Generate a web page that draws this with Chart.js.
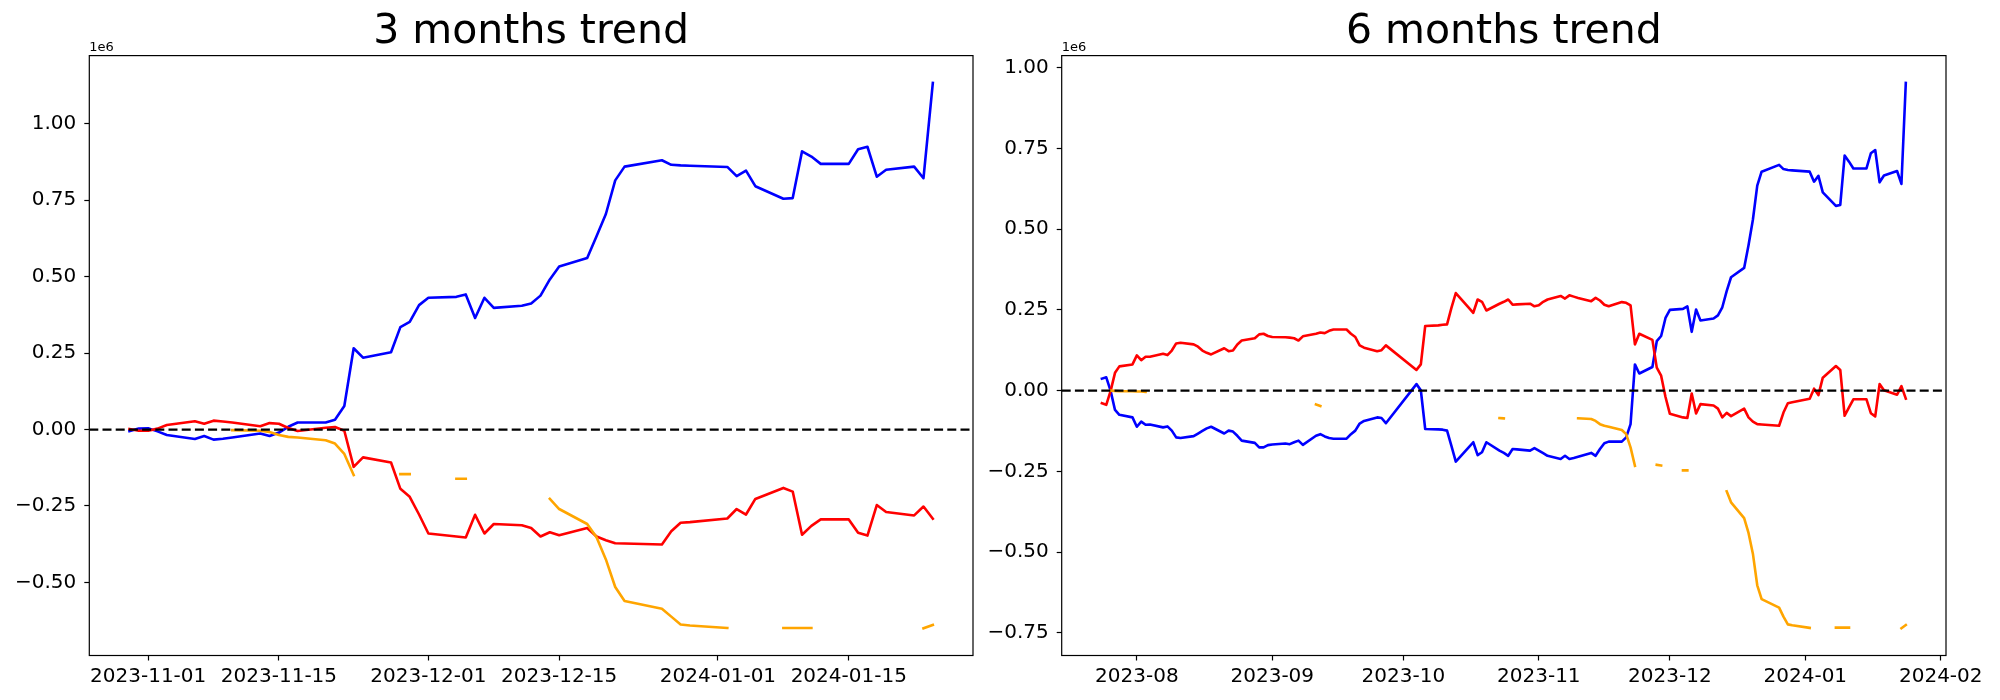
<!DOCTYPE html>
<html>
<head>
<meta charset="utf-8">
<title>Trend</title>
<script src="https://cdn.jsdelivr.net/npm/chart.js@4.4.1/dist/chart.umd.min.js"></script>
<style>
  body { margin: 0; background: #fff; }
  #wrap { position: relative; width: 2000px; height: 700px; }
  canvas { display: block; position: absolute; top: 0; }
  #chart3m { left: 0; }
  #chart6m { left: 960px; }
</style>
</head>
<body>
<div id="wrap">
  <canvas id="chart3m" width="1000" height="700"></canvas>
  <canvas id="chart6m" width="1040" height="700"></canvas>
</div>
<script>
// ---- 3 months data (values in millions) ----
const dates3m = [
  '2023-10-30','2023-10-31','2023-11-01','2023-11-02','2023-11-03',
  '2023-11-06','2023-11-07','2023-11-08','2023-11-09','2023-11-10',
  '2023-11-13','2023-11-14','2023-11-15','2023-11-16','2023-11-17',
  '2023-11-20','2023-11-21','2023-11-22','2023-11-23','2023-11-24',
  '2023-11-27','2023-11-28','2023-11-29','2023-11-30','2023-12-01',
  '2023-12-04','2023-12-05','2023-12-06','2023-12-07','2023-12-08',
  '2023-12-11','2023-12-12','2023-12-13','2023-12-14','2023-12-15',
  '2023-12-18','2023-12-19','2023-12-20','2023-12-21','2023-12-22',
  '2023-12-26','2023-12-27','2023-12-28','2023-12-29',
  '2024-01-02','2024-01-03','2024-01-04','2024-01-05',
  '2024-01-08','2024-01-09','2024-01-10','2024-01-11','2024-01-12',
  '2024-01-15','2024-01-16','2024-01-17','2024-01-18','2024-01-19',
  '2024-01-22','2024-01-23','2024-01-24'
];
const blue3m = [
  -0.005, 0.003, 0.004, -0.006, -0.018,
  -0.031, -0.021, -0.033, -0.030, -0.026,
  -0.013, -0.021, -0.010, 0.009, 0.023,
  0.023, 0.032, 0.077, 0.266, 0.235,
  0.253, 0.335, 0.352, 0.407, 0.431,
  0.434, 0.442, 0.365, 0.431, 0.398,
  0.405, 0.412, 0.438, 0.491, 0.533,
  0.561, 0.632, 0.705, 0.815, 0.860,
  0.881, 0.866, 0.864, 0.863,
  0.859, 0.829, 0.847, 0.796,
  0.755, 0.757, 0.910, 0.893, 0.869,
  0.869, 0.917, 0.925, 0.827, 0.850,
  0.860, 0.822, 1.134
];
const red3m = [
  0.002, -0.004, -0.004, 0.003, 0.015,
  0.027, 0.019, 0.029, 0.026, 0.023,
  0.011, 0.021, 0.019, 0.005, -0.005,
  0.006, 0.008, -0.004, -0.122, -0.091,
  -0.108, -0.194, -0.220, -0.278, -0.340,
  -0.350, -0.353, -0.279, -0.340, -0.309,
  -0.313, -0.322, -0.350, -0.336, -0.346,
  -0.322, -0.350, -0.362, -0.372, -0.373,
  -0.376, -0.333, -0.305, -0.303,
  -0.291, -0.260, -0.278, -0.227,
  -0.191, -0.203, -0.344, -0.315, -0.294,
  -0.294, -0.338, -0.347, -0.247, -0.270,
  -0.281, -0.252, -0.292
];
const orange3m = [
  null, null, null, null, null,
  null, null, null, null, -0.002,
  -0.004, -0.008, -0.018, -0.024, -0.026,
  -0.035, -0.046, -0.080, -0.149, null,
  null, -0.146, -0.146, null, null,
  -0.161, -0.161, null, null, null,
  null, null, null, -0.227, -0.260,
  -0.309, -0.352, -0.425, -0.515, -0.561,
  -0.586, -0.612, -0.638, -0.641,
  -0.649, null, null, null,
  -0.649, -0.649, -0.649, -0.649, null,
  null, null, null, null, null,
  null, -0.650, -0.639
];
const xTicks3m = ['2023-11-01','2023-11-15','2023-12-01','2023-12-15','2024-01-01','2024-01-15'];
const yTicks3m = [-0.5, -0.25, 0, 0.25, 0.5, 0.75, 1.0];

// ---- 6 months data (values in millions) ----
const dates6m = [
  '2023-07-24','2023-07-25','2023-07-26','2023-07-27','2023-07-28',
  '2023-07-31','2023-08-01','2023-08-02','2023-08-03','2023-08-04',
  '2023-08-07','2023-08-08','2023-08-09','2023-08-10','2023-08-11',
  '2023-08-14','2023-08-15','2023-08-16','2023-08-17','2023-08-18',
  '2023-08-21','2023-08-22','2023-08-23','2023-08-24','2023-08-25',
  '2023-08-28','2023-08-29','2023-08-30','2023-08-31','2023-09-01',
  '2023-09-04','2023-09-05','2023-09-06','2023-09-07','2023-09-08',
  '2023-09-11','2023-09-12','2023-09-13','2023-09-14','2023-09-15',
  '2023-09-18','2023-09-19','2023-09-20','2023-09-21','2023-09-22',
  '2023-09-25','2023-09-26','2023-09-27',
  '2023-10-04','2023-10-05','2023-10-06',
  '2023-10-09','2023-10-10','2023-10-11','2023-10-12','2023-10-13',
  '2023-10-16','2023-10-17','2023-10-18','2023-10-19','2023-10-20',
  '2023-10-23','2023-10-24','2023-10-25','2023-10-26','2023-10-27',
  '2023-10-30','2023-10-31','2023-11-01','2023-11-02','2023-11-03',
  '2023-11-06','2023-11-07','2023-11-08','2023-11-09','2023-11-10',
  '2023-11-13','2023-11-14','2023-11-15','2023-11-16','2023-11-17',
  '2023-11-20','2023-11-21','2023-11-22','2023-11-23','2023-11-24',
  '2023-11-27','2023-11-28','2023-11-29','2023-11-30','2023-12-01',
  '2023-12-04','2023-12-05','2023-12-06','2023-12-07','2023-12-08',
  '2023-12-11','2023-12-12','2023-12-13','2023-12-14','2023-12-15',
  '2023-12-18','2023-12-19','2023-12-20','2023-12-21','2023-12-22',
  '2023-12-26','2023-12-27','2023-12-28','2023-12-29',
  '2024-01-02','2024-01-03','2024-01-04','2024-01-05',
  '2024-01-08','2024-01-09','2024-01-10','2024-01-11','2024-01-12',
  '2024-01-15','2024-01-16','2024-01-17','2024-01-18','2024-01-19',
  '2024-01-22','2024-01-23','2024-01-24'
];
const blue6m = [
  0.037, 0.041, -0.001, -0.060, -0.075,
  -0.083, -0.112, -0.096, -0.106, -0.105,
  -0.114, -0.111, -0.124, -0.145, -0.147,
  -0.141, -0.133, -0.125, -0.117, -0.112,
  -0.133, -0.124, -0.127, -0.140, -0.155,
  -0.162, -0.176, -0.176, -0.169, -0.167,
  -0.164, -0.166, -0.160, -0.155, -0.168,
  -0.140, -0.135, -0.142, -0.147, -0.149,
  -0.149, -0.135, -0.124, -0.102, -0.094,
  -0.083, -0.085, -0.101,
  0.020, 0.001, -0.119,
  -0.120, -0.121, -0.124, -0.171, -0.220,
  -0.175, -0.160, -0.200, -0.191, -0.160,
  -0.186, -0.193, -0.202, -0.181, -0.182,
  -0.186, -0.178, -0.186, -0.194, -0.202,
  -0.212, -0.202, -0.212, -0.209, -0.205,
  -0.193, -0.202, -0.181, -0.163, -0.158,
  -0.158, -0.145, -0.104, 0.081, 0.053,
  0.073, 0.153, 0.169, 0.225, 0.250,
  0.253, 0.261, 0.182, 0.251, 0.217,
  0.223, 0.233, 0.258, 0.308, 0.351,
  0.380, 0.450, 0.529, 0.635, 0.678,
  0.699, 0.686, 0.683, 0.682,
  0.678, 0.647, 0.665, 0.614,
  0.572, 0.575, 0.728, 0.709, 0.688,
  0.688, 0.735, 0.745, 0.645, 0.666,
  0.680, 0.640, 0.953
];
const red6m = [
  -0.039, -0.044, -0.001, 0.055, 0.075,
  0.081, 0.109, 0.094, 0.105, 0.105,
  0.114, 0.110, 0.124, 0.146, 0.148,
  0.143, 0.136, 0.124, 0.117, 0.112,
  0.131, 0.122, 0.124, 0.143, 0.155,
  0.162, 0.174, 0.176, 0.169, 0.166,
  0.165, 0.164, 0.162, 0.155, 0.168,
  0.176, 0.180, 0.178, 0.185, 0.189,
  0.189, 0.176, 0.166, 0.140, 0.133,
  0.122, 0.125, 0.140,
  0.064, 0.081, 0.200,
  0.202, 0.204, 0.205, 0.256, 0.302,
  0.256, 0.241, 0.282, 0.275, 0.248,
  0.269, 0.275, 0.282, 0.266, 0.267,
  0.269, 0.261, 0.264, 0.275, 0.282,
  0.293, 0.285, 0.295, 0.291, 0.287,
  0.277, 0.287, 0.279, 0.266, 0.261,
  0.274, 0.272, 0.264, 0.143, 0.176,
  0.157, 0.071, 0.046, -0.020, -0.072,
  -0.083, -0.085, -0.009, -0.071, -0.042,
  -0.046, -0.056, -0.083, -0.069, -0.079,
  -0.056, -0.083, -0.096, -0.104, -0.105,
  -0.109, -0.068, -0.039, -0.036,
  -0.025, 0.006, -0.014, 0.040,
  0.076, 0.064, -0.078, -0.052, -0.027,
  -0.027, -0.070, -0.080, 0.020, 0.001,
  -0.013, 0.014, -0.025
];
const orange6m = [
  null, null, 0.000, -0.001, -0.002,
  -0.002, -0.003, -0.003, -0.004, null,
  null, null, null, null, null,
  null, null, null, null, null,
  null, null, null, null, null,
  null, null, null, null, null,
  null, null, null, null, null,
  -0.043, -0.048, null, null, null,
  null, null, null, null, null,
  null, null, null,
  null, null, null,
  null, null, null, null, null,
  null, null, null, null, null,
  -0.085, -0.086, null, null, null,
  null, null, null, null, null,
  null, null, null, null, -0.086,
  -0.088, -0.094, -0.104, -0.109, -0.112,
  -0.122, -0.135, -0.176, -0.233, null,
  null, -0.230, -0.232, null, null,
  -0.247, -0.247, null, null, null,
  null, null, null, -0.312, -0.346,
  -0.395, -0.441, -0.505, -0.603, -0.646,
  -0.672, -0.700, -0.724, -0.727,
  -0.735, null, null, null,
  -0.734, -0.734, -0.734, -0.734, null,
  null, null, null, null, null,
  null, -0.736, -0.726
];
const xTicks6m = ['2023-08-01','2023-09-01','2023-10-01','2023-11-01','2023-12-01','2024-01-01','2024-02-01'];
const yTicks6m = [-0.75, -0.5, -0.25, 0, 0.25, 0.5, 0.75, 1.0];

// ---- helpers ----
const DAY = 86400000;
function toDay(s) {
    const [y, m, d] = s.split('-').map(Number);
    return Date.UTC(y, m - 1, d) / DAY;
}
function fmtNum(v) {
    const s = Math.abs(v).toFixed(2);
    return v < -1e-9 ? '\u2212' + s : s;
}
function withPad(lo, hi) {
    const p = (hi - lo) * 0.05;
    return [lo - p, hi + p];
}

Chart.defaults.font.family = '"DejaVu Sans", sans-serif';
Chart.defaults.color = '#000';

// frame box + "1e6" offset label
const framePlugin = {
    id: 'frame',
    afterDatasetsDraw(chart) {
        const { ctx, chartArea: a } = chart;
        ctx.save();
        ctx.strokeStyle = '#000';
        ctx.lineWidth = 1.2;
        ctx.strokeRect(a.left, a.top, a.right - a.left, a.bottom - a.top);
        ctx.fillStyle = '#000';
        ctx.font = '13px "DejaVu Sans"';
        ctx.textAlign = 'left';
        ctx.textBaseline = 'alphabetic';
        ctx.fillText('1e6', a.left, a.top - 5);
        ctx.restore();
    }
};

function makeTrendChart(id, opts) {
    const xs = opts.dates.map(toDay);
    const [xMin, xMax] = withPad(xs[0], xs[xs.length - 1]);
    const all = [].concat(opts.blue, opts.red, opts.orange).filter(v => v !== null);
    const [yMin, yMax] = withPad(Math.min(...all), Math.max(...all));
    const pts = vals => xs.map((x, i) => ({ x: x, y: vals[i] }));

    const line = (vals, color, order) => ({
        data: pts(vals),
        borderColor: color,
        borderWidth: 2.6,
        borderJoinStyle: 'round',
        borderCapStyle: 'square',
        pointRadius: 0,
        tension: 0,
        spanGaps: false,
        order: order
    });

    new Chart(document.getElementById(id), {
        type: 'line',
        data: {
            datasets: [
                {
                    data: [{ x: xMin, y: 0 }, { x: xMax, y: 0 }],
                    borderColor: '#000',
                    borderWidth: 2.2,
                    borderDash: [9, 4.2],
                    borderCapStyle: 'butt',
                    pointRadius: 0,
                    order: 0
                },
                line(opts.orange, '#ffa500', 1),
                line(opts.red, '#ff0000', 2),
                line(opts.blue, '#0000ff', 3)
            ]
        },
        options: {
            responsive: false,
            animation: false,
            events: [],
            layout: { padding: { left: 0, right: opts.padRight, top: 0, bottom: 0 } },
            plugins: {
                legend: { display: false },
                tooltip: { enabled: false },
                title: {
                    display: true,
                    text: opts.title,
                    fullSize: false,
                    font: { size: 41, weight: 'normal', lineHeight: 1.1 },
                    color: '#000',
                    padding: { top: 10, bottom: 0.5 }
                }
            },
            scales: {
                x: {
                    type: 'linear',
                    min: xMin,
                    max: xMax,
                    afterFit: s => { s.height = 44.5; },
                    afterBuildTicks: s => { s.ticks = opts.xTicks.map(d => ({ value: toDay(d) })); },
                    grid: { drawOnChartArea: false, drawTicks: true, tickLength: 5, tickColor: '#000', tickWidth: 1.2 },
                    border: { display: false },
                    ticks: {
                        autoSkip: false,
                        maxRotation: 0,
                        minRotation: 0,
                        padding: 4,
                        font: { size: 20 },
                        color: '#000',
                        callback: v => new Date(v * DAY).toISOString().slice(0, opts.labelLen)
                    }
                },
                y: {
                    type: 'linear',
                    min: yMin,
                    max: yMax,
                    afterFit: s => { s.width = opts.yWidth; },
                    afterBuildTicks: s => { s.ticks = opts.yTicks.map(v => ({ value: v })); },
                    grid: { drawOnChartArea: false, drawTicks: true, tickLength: 5, tickColor: '#000', tickWidth: 1.2 },
                    border: { display: false },
                    ticks: {
                        padding: 8,
                        font: { size: 20 },
                        color: '#000',
                        callback: v => fmtNum(v)
                    }
                }
            }
        },
        plugins: [framePlugin]
    });
}

makeTrendChart('chart3m', {
    title: '3 months trend',
    dates: dates3m, blue: blue3m, red: red3m, orange: orange3m,
    xTicks: xTicks3m, yTicks: yTicks3m, labelLen: 10,
    yWidth: 89.3, padRight: 27
});

// right canvas starts at page x 960, so its frame sits at 1061.7 .. 1946
makeTrendChart('chart6m', {
    title: '6 months trend',
    dates: dates6m, blue: blue6m, red: red6m, orange: orange6m,
    xTicks: xTicks6m, yTicks: yTicks6m, labelLen: 7,
    yWidth: 101.7, padRight: 54
});
</script>
</body>
</html>
